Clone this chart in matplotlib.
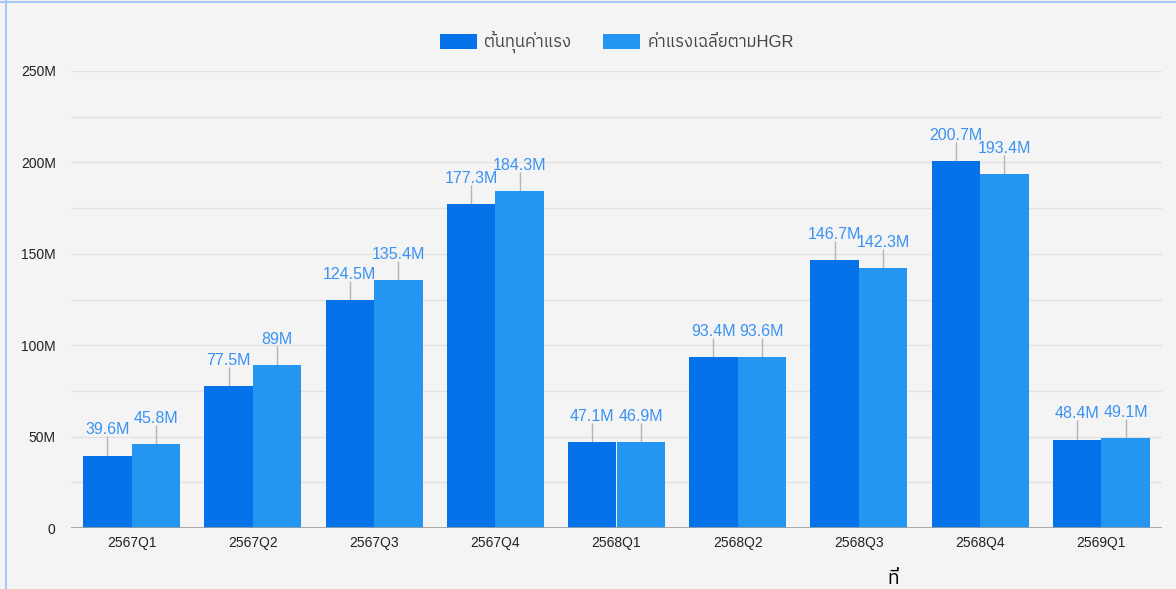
import numpy as np
import matplotlib.pyplot as plt
from matplotlib import font_manager as fm
from matplotlib.ticker import MultipleLocator, FuncFormatter, NullFormatter

quarters = ['2567Q1', '2567Q2', '2567Q3', '2567Q4', '2568Q1',
            '2568Q2', '2568Q3', '2568Q4', '2569Q1']
labor_cost = [39.6, 77.5, 124.5, 177.3, 47.1, 93.4, 146.7, 200.7, 48.4]
hgr_avg = [45.8, 89, 135.4, 184.3, 46.9, 93.6, 142.3, 193.4, 49.1]
series_names = ['ต้นทุนค่าแรง', 'ค่าแรงเฉลี่ยตามHGR']

# find something that can draw Thai
thai_fonts = [f.name for f in fm.fontManager.ttflist
              if 'thai' in f.name.lower() or f.name in ('Loma', 'Garuda', 'Kinnari', 'Norasi', 'Waree', 'Sawasdee', 'Tlwg Typo')]
fams = ['Liberation Sans', 'DejaVu Sans'] + sorted(set(thai_fonts))
plt.rcParams['font.family'] = fams

bg = '#f4f4f4'
c_dark = '#0672ea'
c_light = '#2495f0'
c_lbl = '#3a92f2'

fig = plt.figure(figsize=(11.76, 5.89), dpi=100, facecolor=bg)
ax = fig.add_axes([71/1176, 1-528/589, 1091/1176, 457/589])
ax.set_facecolor(bg)

x = np.arange(len(quarters))
w = 0.4
ax.bar(x - w/2, labor_cost, w, color=c_dark, label=series_names[0], zorder=3)
ax.bar(x + w/2, hgr_avg, w, color=c_light, label=series_names[1], zorder=3)

for xs, vals in ((x - w/2, labor_cost), (x + w/2, hgr_avg)):
    ax.vlines(xs, vals, np.array(vals) + 10.5, color='#b5b5b5', lw=1, zorder=2)
    for xi, v in zip(xs, vals):
        ax.text(xi, v + 10, f'{v:g}M', ha='center', va='bottom', fontsize=11.5,
                color=c_lbl, zorder=4)

ax.set_xlim(-0.5, len(quarters) - 0.5)
ax.set_ylim(0, 250)
ax.yaxis.set_major_locator(MultipleLocator(50))
ax.yaxis.set_minor_locator(MultipleLocator(25))
ax.yaxis.set_minor_formatter(NullFormatter())
ax.yaxis.set_major_formatter(FuncFormatter(lambda v, p: '0' if v == 0 else f'{v:g}M'))
ax.grid(axis='y', which='both', color='#e2e2e2', lw=1, zorder=0)
ax.set_xticks(x)
ax.set_xticklabels(quarters)
ax.tick_params(axis='both', which='both', length=0, labelsize=10, colors='#222222')
ax.tick_params(axis='y', pad=11)
ax.tick_params(axis='x', pad=6)
for s in ax.spines.values():
    s.set_visible(False)
ax.axhline(0, color='#9e9e9e', lw=1.2, zorder=4)

leg = fig.legend(loc='center', bbox_to_anchor=(617/1176, 1-42/589), ncol=2,
                 frameon=False, fontsize=12, handlelength=2.2, handleheight=1.0,
                 handletextpad=0.45, columnspacing=1.9, labelcolor='#444444')

# screenshot border and the clipped text below the chart
fig.add_artist(plt.Line2D([6/1176, 6/1176], [0, 1], color='#a9c8f5', lw=1.5))
fig.add_artist(plt.Line2D([0, 1], [1-2/589, 1-2/589], color='#a9c8f5', lw=1.5))
fig.text(893/1176, 0.002, 'ที่', fontsize=14, color='black', ha='center', va='bottom')

fig.savefig('out.png', dpi=100, facecolor=bg)
